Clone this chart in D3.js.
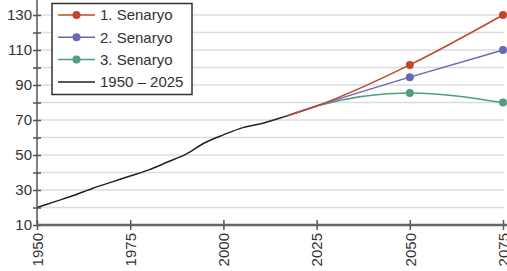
<!DOCTYPE html>
<html lang="tr">
  <head>
    <meta charset="utf-8">
    <title>Senaryo</title>
    <script src="https://cdnjs.cloudflare.com/ajax/libs/d3/7.8.5/d3.min.js"></script>
    <style type="text/css">
      body { margin: 0; background: #fff; }
      text { font-family: "Liberation Sans", Arial, sans-serif; }
    </style>
  </head>
  <body>
    <script type="text/javascript">
    // data
    var histYears = [1950, 1955, 1960, 1965, 1970, 1975, 1980, 1985, 1990, 1995, 2000, 2005, 2010, 2015, 2017];
    var histValues = [20, 23.5, 27, 31, 34.5, 38, 41.5, 46, 50.5, 57, 61.5, 65.5, 67.8, 71, 72.3];

    var scenYears = [2017, 2025, 2050, 2075];
    var scen1 = [72.3, 78, 101.5, 130];
    var scen2 = [72.3, 78, 94.5, 110];
    var scen3 = [72.3, 78, 85.5, 80];
    var markerYears = [2050, 2075];

    var xTicks = [1950, 1975, 2000, 2025, 2050, 2075];
    var yLabels = [10, 30, 50, 70, 90, 110, 130];
    var yMinor = [20, 40, 60, 80, 100, 120];
    var gridValues = [20, 30, 40, 50, 60, 70, 80, 90, 100, 110, 120, 130];

    var legendNames = ["1. Senaryo", "2. Senaryo", "3. Senaryo", "1950 \u2013 2025"];
    var colors = ["#c4472b", "#6b67b8", "#4e9e80", "#222"];

    //Width and height
    var w = 507;
    var h = 271;

    var x = d3.scaleLinear().domain([1950, 2075]).range([37, 503]);
    var y = d3.scaleLinear().domain([10, 130]).range([225, 15]);

    var svg = d3.select("body")
                .append("svg")
                .attr("width", w)
                .attr("height", h);

    // grid
    svg.selectAll("line.grid")
       .data(gridValues)
       .enter()
       .append("line")
       .attr("class", "grid")
       .attr("x1", 37)
       .attr("x2", 504)
       .attr("y1", function(d) { return y(d); })
       .attr("y2", function(d) { return y(d); })
       .attr("stroke", "#dcdcdc")
       .attr("stroke-width", 1.5);

    var line = d3.line()
                 .x(function(d) { return x(d[0]); })
                 .y(function(d) { return y(d[1]); })
                 .curve(d3.curveMonotoneX);

    // scenarios (1 drawn last so it sits on top at the start)
    var scenarios = [scen3, scen2, scen1];
    var scenColors = [colors[2], colors[1], colors[0]];
    scenarios.forEach(function(vals, k) {
      var pts = scenYears.map(function(yr, i) { return [yr, vals[i]]; });
      svg.append("path")
         .datum(pts)
         .attr("d", line)
         .attr("fill", "none")
         .attr("stroke", scenColors[k])
         .attr("stroke-width", 1.5);
      svg.selectAll("circle.s" + k)
         .data(pts.filter(function(p) { return markerYears.indexOf(p[0]) >= 0; }))
         .enter()
         .append("circle")
         .attr("class", "s" + k)
         .attr("cx", function(d) { return x(d[0]); })
         .attr("cy", function(d) { return y(d[1]); })
         .attr("r", 4)
         .attr("fill", scenColors[k]);
    });

    // history
    svg.append("path")
       .datum(histYears.map(function(yr, i) { return [yr, histValues[i]]; }))
       .attr("d", line)
       .attr("fill", "none")
       .attr("stroke", colors[3])
       .attr("stroke-width", 1.5);

    // y axis
    var yAxis = svg.append("g")
                   .attr("transform", "translate(37,0)")
                   .call(d3.axisLeft(y).tickValues(yLabels.concat(yMinor)).tickSize(4)
                         .tickFormat(function(d) { return yLabels.indexOf(d) >= 0 ? d : ""; }));
    yAxis.select(".domain").remove();
    yAxis.selectAll(".tick line").attr("x1", -4).attr("x2", 4).attr("stroke", "#555").attr("stroke-width", 1.5);
    yAxis.selectAll(".tick text").attr("x", -5).attr("font-size", "15px").attr("fill", "#333")
         .style("font-family", "Liberation Sans, Arial, sans-serif");
    svg.append("line")
       .attr("x1", 37).attr("x2", 37).attr("y1", 0).attr("y2", 225)
       .attr("stroke", "#555").attr("stroke-width", 1.5);

    // x axis
    var xAxis = svg.append("g")
                   .attr("transform", "translate(0,225)")
                   .call(d3.axisBottom(x).tickValues(xTicks).tickSize(5).tickFormat(d3.format("d")));
    xAxis.select(".domain").remove();
    xAxis.selectAll(".tick line").attr("y1", -5).attr("y2", 5).attr("stroke", "#555").attr("stroke-width", 1.5);
    xAxis.selectAll(".tick text")
         .attr("transform", "rotate(-90)")
         .attr("text-anchor", "end")
         .attr("x", -8)
         .attr("y", 0)
         .attr("dy", "0.35em")
         .attr("font-size", "15px")
         .attr("fill", "#333")
         .style("font-family", "Liberation Sans, Arial, sans-serif");
    svg.append("line")
       .attr("x1", 37).attr("x2", 507).attr("y1", 225).attr("y2", 225)
       .attr("stroke", "#666").attr("stroke-width", 2.5);

    // legend
    var lg = svg.append("g");
    lg.append("rect")
      .attr("x", 52).attr("y", 3.5).attr("width", 140).attr("height", 91)
      .attr("fill", "#fff").attr("stroke", "#333").attr("stroke-width", 1.5);
    var items = lg.selectAll("g.item")
                  .data(legendNames)
                  .enter()
                  .append("g")
                  .attr("class", "item")
                  .attr("transform", function(d, i) { return "translate(0," + (15 + i * 22.3) + ")"; });
    items.append("line")
         .attr("x1", 58).attr("x2", 95).attr("y1", 0).attr("y2", 0)
         .attr("stroke", function(d, i) { return colors[i]; })
         .attr("stroke-width", 1.5);
    items.filter(function(d, i) { return i < 3; })
         .append("circle")
         .attr("cx", 76.5).attr("cy", 0).attr("r", 4)
         .attr("fill", function(d, i) { return colors[i]; });
    items.append("text")
         .attr("x", 100).attr("y", 0).attr("dy", "0.35em")
         .attr("font-size", "15px").attr("fill", "#333")
         .text(function(d) { return d; });
    </script>
  </body>
</html>
